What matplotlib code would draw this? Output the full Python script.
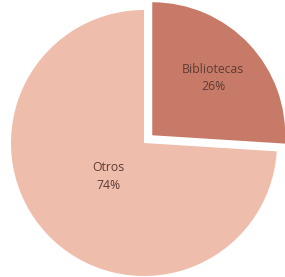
import numpy as np
import matplotlib
matplotlib.use("Agg")
import matplotlib.pyplot as plt

categories = ["Bibliotecas", "Otros"]
values = [26, 74]
colors = ["#C87A68", "#EEBDAB"]
explode = [0.085, 0.0]
label_dist = [0.63, 0.37]

fig = plt.figure(figsize=(2.85, 2.77), dpi=100)
ax = fig.add_axes([0, 0, 1, 1])
wedges, _ = ax.pie(values, colors=colors, explode=explode, startangle=90,
                   counterclock=False, radius=1.0,
                   wedgeprops=dict(linewidth=0))
total = sum(values)
for w, cat, v, d in zip(wedges, categories, values, label_dist):
    ang = np.deg2rad((w.theta1 + w.theta2) / 2)
    cx, cy = w.center
    ax.text(cx + d * np.cos(ang), cy + d * np.sin(ang),
            f"{cat}\n{round(100 * v / total)}%", ha="center", va="center",
            fontsize=8.8, color="#5E3C33", family=["Open Sans", "DejaVu Sans"],
            linespacing=1.45)
ax.set_aspect("auto")
ax.set_xlim(-144 / 133, (285 - 144) / 133)
ax.set_ylim(-(277 - 143) / 133, 143 / 133)
ax.axis("off")
fig.savefig("out.png", dpi=100)
